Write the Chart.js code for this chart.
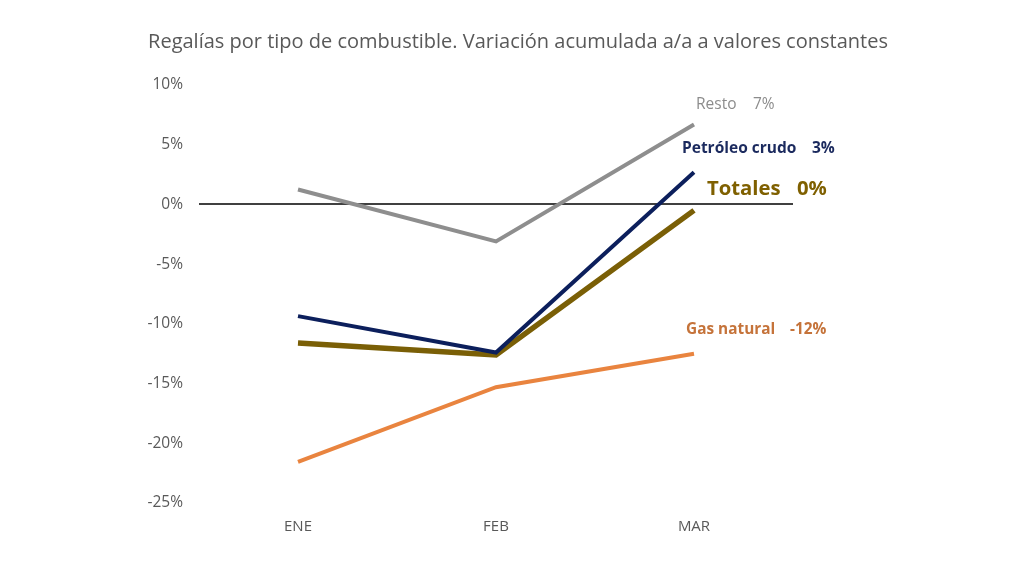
<!DOCTYPE html>
<html><head><meta charset="utf-8">
<script src="https://cdn.jsdelivr.net/npm/chart.js@4/dist/chart.umd.min.js"></script>
<style>html,body{margin:0;padding:0;background:#fff}#wrap{width:1024px;height:576px}</style>
</head><body><div id="wrap"><canvas id="c" width="1024" height="576"></canvas></div>
<script>
const categories = ["ENE", "FEB", "MAR"];
const resto = [1.25, -3.1, 6.7];
const petroleo = [-9.35, -12.4, 2.7];
const totales = [-11.6, -12.6, -0.5];
const gas = [-21.55, -15.3, -12.5];
const seriesNames = ["Resto", "Petróleo crudo", "Totales", "Gas natural"];
const yTicks = [10, 5, 0, -5, -10, -15, -20, -25];
const title = "Regalías por tipo de combustible. Variación acumulada a/a a valores constantes";

const FONT = "'Open Sans', Lato, sans-serif";
const labelStyle = [
  {dxName: 2, dxVal: 59, dy: -20, size: 15.5, weight: "normal", color: "#8c8c8c"},
  {dxName: -12, dxVal: 118, dy: -24, size: 15.5, weight: "bold", color: "#1b2a5e"},
  {dxName: 13, dxVal: 103, dy: -21, size: 20.3, weight: "bold", color: "#7f6000"},
  {dxName: -8, dxVal: 96, dy: -24, size: 15.4, weight: "bold", color: "#c5733a"}
];

const titlePlugin = {
  id: "titleText",
  beforeDraw(chart) {
    const ctx = chart.ctx;
    ctx.save();
    ctx.font = "normal 20px " + FONT;
    ctx.fillStyle = "#595959";
    ctx.textAlign = "center";
    ctx.textBaseline = "middle";
    ctx.fillText(title, 518, 42);
    ctx.restore();
  }
};

const endLabels = {
  id: "endLabels",
  afterDatasetsDraw(chart) {
    const ctx = chart.ctx;
    chart.data.datasets.forEach((ds, i) => {
      const meta = chart.getDatasetMeta(i);
      const pt = meta.data[meta.data.length - 1];
      const st = labelStyle[i];
      const v = Math.round(ds.data[ds.data.length - 1]);
      const vs = (v === 0 ? 0 : v) + "%";
      ctx.save();
      ctx.font = st.weight + " " + st.size + "px " + FONT;
      ctx.fillStyle = st.color;
      ctx.textBaseline = "middle";
      ctx.textAlign = "left";
      ctx.fillText(ds.label, pt.x + st.dxName, pt.y + st.dy);
      ctx.fillText(vs, pt.x + st.dxVal, pt.y + st.dy);
      ctx.restore();
    });
  }
};

new Chart(document.getElementById("c"), {
  type: "line",
  data: {
    labels: categories,
    datasets: [
      {label: seriesNames[0], data: resto, borderColor: "#8e8e8e", borderWidth: 4},
      {label: seriesNames[1], data: petroleo, borderColor: "#0c1f5c", borderWidth: 4},
      {label: seriesNames[2], data: totales, borderColor: "#7a5f06", borderWidth: 5.5},
      {label: seriesNames[3], data: gas, borderColor: "#e9843f", borderWidth: 4}
    ].map(d => Object.assign(d, {pointRadius: 0, tension: 0, fill: false}))
  },
  options: {
    responsive: false,
    animation: false,
    layout: {padding: {left: 0, right: 231, top: 85, bottom: 40}},
    plugins: {
      legend: {display: false},
      tooltip: {enabled: false},
      title: {display: false}
    },
    scales: {
      x: {
        offset: true,
        grid: {display: false, drawTicks: false},
        border: {display: false},
        ticks: {color: "#595959", font: {family: FONT, size: 15}, padding: 15},
        afterFit(s) { s.height = 33; }
      },
      y: {
        min: -25, max: 10,
        afterBuildTicks(s) { s.ticks = yTicks.map(v => ({value: v})); },
        grid: {drawTicks: false, lineWidth: 2,
          color: c => (c.tick && c.tick.value === 0) ? "#404040" : "rgba(0,0,0,0)"},
        border: {display: false},
        ticks: {color: "#595959", font: {family: FONT, size: 15.5}, padding: 16,
          callback: v => v + "%"},
        afterFit(s) { s.width = 199; }
      }
    }
  },
  plugins: [titlePlugin, endLabels]
});
</script>
</body></html>
